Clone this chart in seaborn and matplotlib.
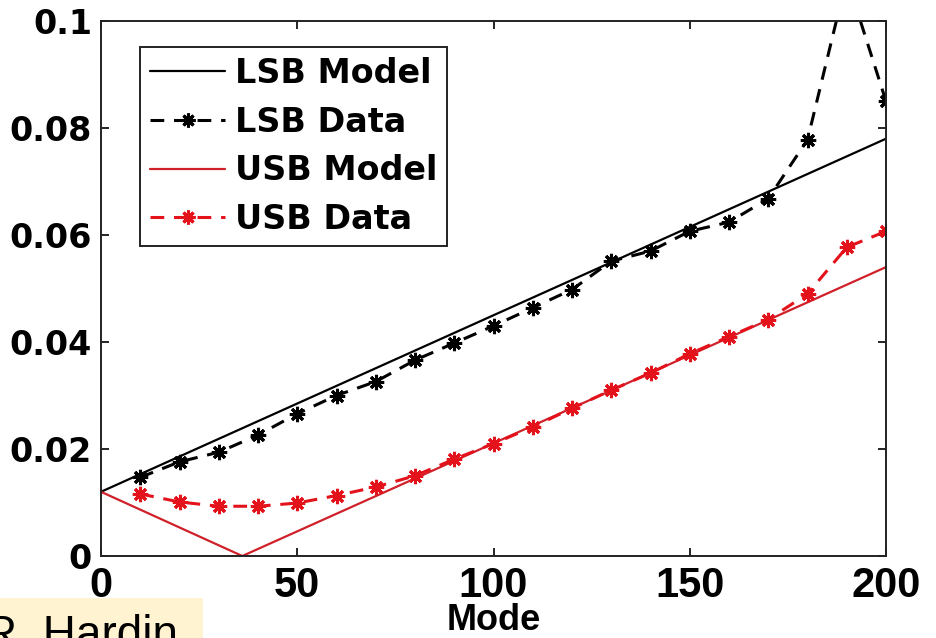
import matplotlib
matplotlib.use("Agg")
import matplotlib.pyplot as plt
from matplotlib.patches import Rectangle
from matplotlib.ticker import FuncFormatter
import seaborn as sns

# Sideband model curves (piecewise linear in mode number)
lsb_model_mode = [0, 200]
lsb_model_val = [0.012, 0.078]
usb_model_mode = [0, 36, 200]
usb_model_val = [0.012, 0.0, 0.054]

# Measured sideband values at every tenth mode
data_mode = [10, 20, 30, 40, 50, 60, 70, 80, 90, 100,
             110, 120, 130, 140, 150, 160, 170, 180, 190, 200]
lsb_data = [0.0147, 0.0176, 0.0194, 0.0226, 0.0266, 0.0300, 0.0326, 0.0366, 0.0398, 0.0430,
            0.0464, 0.0498, 0.0551, 0.0570, 0.0607, 0.0624, 0.0668, 0.0778, 0.1080, 0.0850]
usb_data = [0.0116, 0.0101, 0.0093, 0.0093, 0.0099, 0.0113, 0.0129, 0.0150, 0.0181, 0.0210,
            0.0241, 0.0276, 0.0310, 0.0342, 0.0378, 0.0410, 0.0442, 0.0490, 0.0577, 0.0607]

x_ticks = [0, 50, 100, 150, 200]
y_ticks = [0, 0.02, 0.04, 0.06, 0.08, 0.1]

sns.set_theme(style="white")
plt.rcParams["font.family"] = ["DejaVu Sans"]
plt.rcParams.update({"text.color": "black", "axes.labelcolor": "black",
                     "xtick.color": "black", "ytick.color": "black"})

fig = plt.figure(figsize=(9.36, 6.38), dpi=100)
ax = fig.add_axes([101 / 936, 1 - 556 / 638, 785 / 936, 535 / 638])

red = "#e3121b"
red_model = "#d0202a"
star = (8, 2, 0)
dash = (0, (4.5, 3.2))

sns.lineplot(x=lsb_model_mode, y=lsb_model_val, ax=ax, color="black", lw=1.6,
             label="LSB Model")
sns.lineplot(x=data_mode, y=lsb_data, ax=ax, color="black", lw=2.2,
             linestyle=dash, marker=star, markersize=11,
             markeredgewidth=2.2, markeredgecolor="black", label="LSB Data")
sns.lineplot(x=usb_model_mode, y=usb_model_val, ax=ax, color=red_model, lw=1.6,
             label="USB Model")
sns.lineplot(x=data_mode, y=usb_data, ax=ax, color=red, lw=2.2,
             linestyle=dash, marker=star, markersize=11,
             markeredgewidth=2.2, markeredgecolor=red, label="USB Data")

ax.set_xlim(0, 200)
ax.set_ylim(0, 0.1)
ax.set_xticks(x_ticks)
ax.set_yticks(y_ticks)
ax.yaxis.set_major_formatter(FuncFormatter(lambda v, p: f"{v:g}"))

# x axis text is set in a tall, compact face; y axis text in a wide bold face
compact = ["Liberation Sans", "DejaVu Sans"]
ax.set_xticklabels([str(t) for t in x_ticks], family=compact, fontweight="bold",
                   fontsize=30, color="black")
for lab in ax.get_yticklabels():
    lab.set_fontweight("bold")
    lab.set_fontsize(24)
    lab.set_family("DejaVu Sans")
    lab.set_color("black")

ax.tick_params(axis="both", which="both", direction="in", length=6, width=1.2,
               top=True, right=True, bottom=True, left=True, color="black")
ax.tick_params(axis="y", pad=6.5)
ax.tick_params(axis="x", pad=7)
ax.set_xlabel("Mode", family=compact, fontweight="bold", fontsize=26, color="black")
ax.xaxis.set_label_coords(0.5, -0.088)
ax.set_ylabel("")

for s in ax.spines.values():
    s.set_visible(True)
    s.set_color("#222222")
    s.set_linewidth(1.4)

leg = ax.legend(loc="upper left", bbox_to_anchor=(39 / 785, 1 - 26 / 535),
                borderaxespad=0, fancybox=False, framealpha=1, edgecolor="#222222",
                prop={"weight": "bold", "size": 24, "family": "DejaVu Sans"},
                handlelength=2.25, handletextpad=0.3, labelspacing=0.47,
                borderpad=0.3)
leg.get_frame().set_linewidth(1.4)
for t in leg.get_texts():
    t.set_color("black")
for h in leg.legend_handles:
    h.set_markersize(10)

# name tag in the lower-left corner
fig.patches.append(Rectangle((0, 0), 203 / 936, 40 / 638, transform=fig.transFigure,
                             facecolor="#fff3d2", edgecolor="none", zorder=0))
fig.text(-16 / 936, -10 / 638, "R. Hardin", fontsize=33, color="black",
         family=["Liberation Sans", "DejaVu Sans"], va="baseline", ha="left")

fig.savefig("out.png", dpi=100, facecolor="white")
